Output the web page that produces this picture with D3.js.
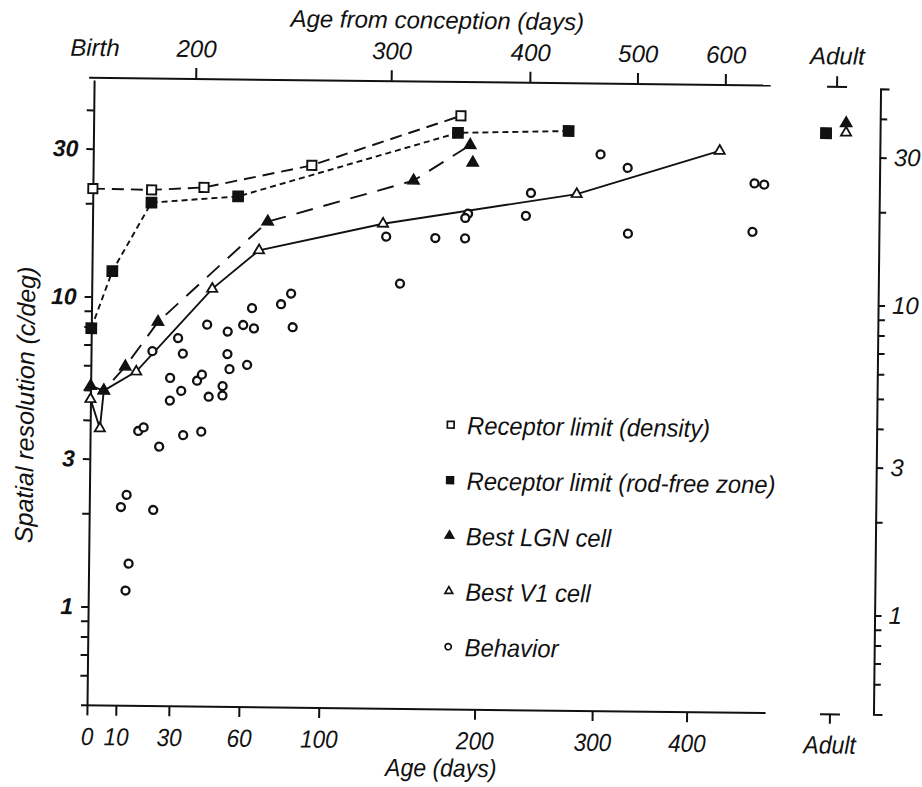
<!DOCTYPE html>
<html lang="en">
<head>
<meta charset="UTF-8">
<title>Spatial resolution during development</title>
<script src="https://cdnjs.cloudflare.com/ajax/libs/d3/7.8.5/d3.min.js"></script>
<style>
    body { margin: 0; background: #fff; }
    svg text {
        font-family: "Liberation Sans", Arial, Helvetica, sans-serif;
        font-style: italic;
        fill: #111;
    }
</style>
</head>
<body>
<div id="chart"></div>
<script>

    // ---- data (age in days after birth, resolution in c/deg)
    var gestation = 162;   // birth, in days from conception

    var densityAge = [0, 21, 42, 93, 185];
    var densityRes = [22.3, 22.2, 22.7, 27.0, 39.5];

    var rodFreeAge = [0, 7, 21, 57, 183, 272];
    var rodFreeRes = [7.9, 12.1, 20.2, 21.3, 34.8, 35.6];

    // the dashed LGN line only runs through the first lgnLinked points
    var lgnAge = [0, 4.5, 12, 24, 71, 153, 192, 194];
    var lgnRes = [5.15, 4.98, 5.96, 8.33, 17.7, 24.3, 31.8, 27.9];
    var lgnLinked = 7;

    var v1Age = [0, 3.3, 4.5, 16, 46, 67, 134, 280, 432];
    var v1Res = [4.67, 3.76, 4.98, 5.75, 10.7, 14.3, 17.6, 22.3, 31.1];

    var behaviorAge = [64, 78, 44, 53, 60, 65, 84, 32, 22, 34, 53, 54, 62, 29, 40, 42, 51, 33.5, 29, 45, 51,
        17, 19, 34.5, 42, 25, 13, 11, 23, 14, 13, 83, 302, 329, 477, 490, 240, 191, 189, 236, 136, 168, 189,
        330, 475, 145];
    var behaviorRes = [9.3, 9.6, 8.2, 7.8, 8.2, 8.0, 8.1, 7.4, 6.7, 6.6, 6.6, 5.9, 6.1, 5.5, 5.4, 5.65, 5.2, 5.0, 4.65, 4.8, 4.85,
        3.7, 3.8, 3.6, 3.7, 3.3, 2.3, 2.1, 2.06, 1.38, 1.13, 10.4, 30.0, 27.2, 24.5, 24.3, 22.4, 19.1, 18.5, 18.9, 16.0, 15.9, 15.9,
        16.7, 17.1, 11.3];

    // adult values
    var adultSeries = ["density", "rodFree", "lgn", "v1"];
    var adultRes = [35.8, 35.8, 38.6, 36.0];

    // axes
    var ageTicks = [0, 10, 30, 60, 100, 200, 300, 400];
    var conceptionTicks = [200, 300, 400, 500, 600];
    var resTicks = [0.6, 0.7, 0.8, 0.9, 1, 2, 3, 4, 5, 6, 7, 8, 9, 10, 20, 30, 40];
    var resLabels = [1, 3, 10, 30];

    var legendLabels = ["Receptor limit (density)", "Receptor limit (rod-free zone)",
        "Best LGN cell", "Best V1 cell", "Behavior"];


    // ---- size
    var w = 922;
    var h = 787;

    var svg = d3.select("#chart")
        .append("svg")
        .attr("width", w)
        .attr("height", h);

    // the printed figure sits slightly skewed on the page
    var root = svg.append("g")
        .attr("transform", "rotate(0.65,480,400)");


    // ---- scales
    var x0 = 90.5;
    var pxPerDecade = 1110;
    var xScale = d3.scaleLog()
        .domain([gestation, gestation + 500])
        .range([x0, x0 + pxPerDecade * Math.log10((gestation + 500) / gestation)]);

    var yScale = d3.scaleLog()
        .domain([0.48, 50])
        .range([709.8, 84.3]);

    var adultScale = d3.scalePoint()
        .domain(["receptor", "Adult", "cell"])
        .range([823, 843]);

    var bottomY = yScale.range()[0];
    var topY = yScale.range()[1] - 2;
    var rightX = 877;

    var ink = "#111";

    // squeeze text a little to mimic the condensed face of the print
    function squeeze(sel, k) {
        sel.each(function() {
            var len = this.getComputedTextLength();
            if (len > 0) {
                d3.select(this)
                    .attr("textLength", len * k)
                    .attr("lengthAdjust", "spacingAndGlyphs");
            }
        });
    }

    function styleAxis(g, size) {
        g.attr("font-family", null)
            .attr("font-size", null)
            .attr("color", ink)
            .style("font-size", size + "px");
        g.selectAll("line, path").attr("stroke-width", 2);
    }


    // ---- axes
    // bottom: age after birth
    var bottomAxis = root.append("g")
        .attr("transform", "translate(0," + bottomY + ")")
        .call(d3.axisBottom(xScale)
            .tickValues(ageTicks.map(function(a) { return a + gestation; }))
            .tickFormat(function(d) { return Math.round(d - gestation); })
            .tickSize(10)
            .tickSizeOuter(0)
            .tickPadding(12));
    styleAxis(bottomAxis, 25);
    bottomAxis.select(".domain").remove();
    bottomAxis.append("line")
        .attr("x1", xScale.range()[0] - 6)
        .attr("x2", xScale.range()[1])
        .attr("stroke", ink)
        .attr("stroke-width", 2);
    squeeze(bottomAxis.selectAll("text"), 0.9);

    // top: age from conception
    var topAxis = root.append("g")
        .attr("transform", "translate(0," + topY + ")")
        .call(d3.axisTop(xScale)
            .tickValues([gestation].concat(conceptionTicks))
            .tickFormat(function(d) { return d === gestation ? "Birth" : d; })
            .tickSize(11)
            .tickSizeOuter(0)
            .tickPadding(11));
    styleAxis(topAxis, 24);
    topAxis.select(".domain").remove();
    topAxis.selectAll(".tick line").filter(function(d) { return d === gestation; }).remove();
    topAxis.append("line")
        .attr("x1", xScale.range()[0] - 5)
        .attr("x2", xScale.range()[1] - 2)
        .attr("stroke", ink)
        .attr("stroke-width", 2);

    // adult stubs, top and bottom
    var adultTop = root.append("g")
        .attr("transform", "translate(0," + topY + ")")
        .call(d3.axisTop(adultScale).tickValues(["Adult"]).tickSize(10).tickSizeOuter(0).tickPadding(12));
    styleAxis(adultTop, 24);

    var adultBottom = root.append("g")
        .attr("transform", "translate(0," + bottomY + ")")
        .call(d3.axisBottom(adultScale).tickValues(["Adult"]).tickSize(10).tickSizeOuter(0).tickPadding(12));
    styleAxis(adultBottom, 25);
    squeeze(adultBottom.selectAll("text"), 0.92);

    // left resolution axis
    var resFormat = function(d) { return resLabels.indexOf(d) >= 0 ? d : ""; };

    var leftAxis = root.append("g")
        .attr("transform", "translate(" + x0 + ",0)")
        .call(d3.axisLeft(yScale)
            .tickValues(resTicks)
            .tickFormat(resFormat)
            .tickSize(7)
            .tickSizeOuter(0)
            .tickPadding(8));
    styleAxis(leftAxis, 23);
    leftAxis.selectAll("text").attr("font-weight", "bold");

    // right resolution axis
    var rightAxis = root.append("g")
        .attr("transform", "translate(" + rightX + ",0)")
        .call(d3.axisRight(yScale)
            .tickValues(resTicks)
            .tickFormat(resFormat)
            .tickSize(7)
            .tickSizeOuter(9)
            .tickPadding(7));
    styleAxis(rightAxis, 24);


    // ---- axis titles
    var bottomTitle = root.append("text")
        .attr("x", 445)
        .attr("y", 777)
        .attr("text-anchor", "middle")
        .style("font-size", "25px")
        .text("Age (days)");
    squeeze(bottomTitle, 0.92);

    root.append("text")
        .attr("x", 433)
        .attr("y", 29)
        .attr("text-anchor", "middle")
        .style("font-size", "24px")
        .text("Age from conception (days)");

    root.append("text")
        .attr("transform", "translate(34,410) rotate(-90)")
        .attr("text-anchor", "middle")
        .style("font-size", "25px")
        .text("Spatial resolution (c/deg)");


    // ---- series
    function points(ages, res) {
        return ages.map(function(a, i) { return {age: a, res: res[i]}; });
    }

    var density = points(densityAge, densityRes);
    var rodFree = points(rodFreeAge, rodFreeRes);
    var lgn = points(lgnAge, lgnRes);
    var v1 = points(v1Age, v1Res);
    var behavior = points(behaviorAge, behaviorRes);

    var line = d3.line()
        .x(function(d) { return xScale(d.age + gestation); })
        .y(function(d) { return yScale(d.res); });

    var lines = [
        {data: density, dash: "12,7"},
        {data: rodFree, dash: "6,4"},
        {data: lgn.slice(0, lgnLinked), dash: "17,11"},
        {data: v1, dash: null}
    ];

    root.selectAll(".series")
        .data(lines)
        .enter()
        .append("path")
        .attr("class", "series")
        .attr("d", function(d) { return line(d.data); })
        .attr("fill", "none")
        .attr("stroke", ink)
        .attr("stroke-width", 1.9)
        .attr("stroke-dasharray", function(d) { return d.dash; });


    // ---- markers
    var styles = {
        density:  {type: d3.symbolSquare, size: 85, fill: "#fff", width: 1.9, legendSize: 45},
        rodFree:  {type: d3.symbolSquare, size: 105, fill: ink, width: 1.5, legendSize: 45},
        lgn:      {type: d3.symbolTriangle, size: 55, fill: ink, width: 1.5, legendSize: 30},
        v1:       {type: d3.symbolTriangle, size: 45, fill: "#fff", width: 1.8, legendSize: 26},
        behavior: {type: d3.symbolCircle, size: 50, fill: "#fff", width: 2.3, legendSize: 30}
    };

    function drawMarkers(data, key, xf) {
        var s = styles[key];
        root.append("g")
            .selectAll("path")
            .data(data)
            .enter()
            .append("path")
            .attr("transform", function(d) { return "translate(" + xf(d) + "," + yScale(d.res) + ")"; })
            .attr("d", d3.symbol().type(s.type).size(s.size))
            .attr("fill", s.fill)
            .attr("stroke", ink)
            .attr("stroke-width", s.width);
    }

    var byAge = function(d) { return xScale(d.age + gestation); };

    drawMarkers(behavior, "behavior", byAge);
    drawMarkers(v1, "v1", byAge);
    drawMarkers(lgn, "lgn", byAge);
    drawMarkers(density, "density", byAge);
    drawMarkers(rodFree, "rodFree", byAge);

    // adult column: receptor limits on the left, cells on the right
    adultSeries.forEach(function(key, i) {
        var side = (key === "density" || key === "rodFree") ? "receptor" : "cell";
        drawMarkers([{res: adultRes[i]}], key, function() { return adultScale(side); });
    });


    // ---- legend
    var legendKeys = ["density", "rodFree", "lgn", "v1", "behavior"];

    var legend = root.append("g")
        .attr("transform", "translate(451,425)");

    var rows = legend.selectAll("g")
        .data(legendKeys)
        .enter()
        .append("g")
        .attr("transform", function(d, i) { return "translate(0," + (i * 55.5) + ")"; });

    rows.append("path")
        .attr("d", function(d) { return d3.symbol().type(styles[d].type).size(styles[d].legendSize)(); })
        .attr("fill", function(d) { return styles[d].fill; })
        .attr("stroke", ink)
        .attr("stroke-width", 1.7);

    var legendText = rows.append("text")
        .attr("x", 16.5)
        .attr("y", 9.5)
        .style("font-size", "25px")
        .text(function(d, i) { return legendLabels[i]; });
    squeeze(legendText, 0.95);

</script>
</body>
</html>
